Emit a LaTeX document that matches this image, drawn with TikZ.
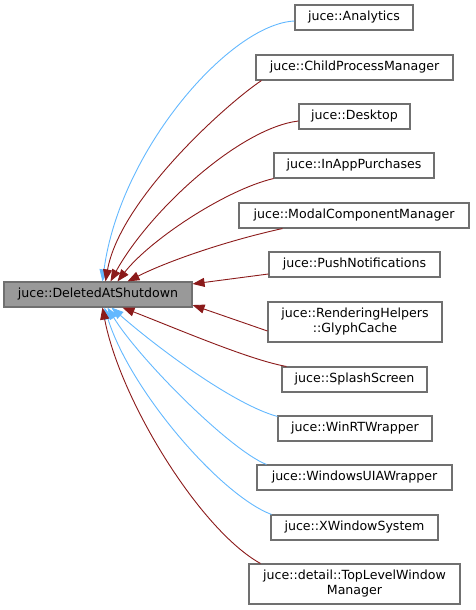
\documentclass[tikz,border=0pt]{standalone}
\usepackage{fontspec}
\setmainfont{DejaVu Sans}
\usetikzlibrary{arrows.meta}
\definecolor{eblue}{HTML}{63B8FF}
\definecolor{ered}{HTML}{8B1A1A}
\definecolor{bord}{HTML}{707070}
\definecolor{basefill}{HTML}{999999}
\begin{document}
\begin{tikzpicture}[x=1pt,y=-1pt,
  box/.style={draw=bord,line width=1.1pt,fill=white,inner sep=0pt,minimum height=25pt,align=center,font=\fontsize{12.6}{15}\selectfont},
  basebox/.style={box,fill=basefill},
  pub/.style={draw=eblue,line width=0.9pt,-{Triangle[length=12pt,width=9pt]}},
  priv/.style={draw=ered,line width=0.9pt,-{Triangle[length=12pt,width=9pt]}}]
\useasboundingbox (0,0) rectangle (475,610);
\node[basebox,minimum width=188pt] (base) at (98,294.5) {juce::DeletedAtShutdown};
\node[box,minimum width=118pt] (an) at (354,17.5) {juce::Analytics};
\node[box,minimum width=197pt] (cp) at (354.5,67.5) {juce::ChildProcessManager};
\node[box,minimum width=111pt] (dt) at (354.5,116.5) {juce::Desktop};
\node[box,minimum width=160pt] (ia) at (354,165.5) {juce::InAppPurchases};
\node[box,minimum width=230pt] (mc) at (354,215.5) {juce::ModalComponentManager};
\node[box,minimum width=171pt] (pn) at (354.5,264.5) {juce::PushNotifications};
\node[box,minimum width=174pt,minimum height=40pt] (gc) at (355,322) {juce::RenderingHelpers\\::GlyphCache};
\node[box,minimum width=145pt] (ss) at (354.5,379.5) {juce::SplashScreen};
\node[box,minimum width=154pt] (wr) at (355,428.5) {juce::WinRTWrapper};
\node[box,minimum width=195pt] (wu) at (354.5,477.5) {juce::WindowsUIAWrapper};
\node[box,minimum width=167pt] (xw) at (354.5,527.5) {juce::XWindowSystem};
\node[box,minimum width=211pt,minimum height=40pt] (tl) at (354.5,584) {juce::detail::TopLevelWindow\\Manager};
% edges
\draw[pub] ([yshift=-3.5pt]an.west) .. controls (230,24) and (120,150) .. ([xshift=99pt]base.north west);
\draw[priv] ([xshift=6pt]cp.south west) .. controls (225,105) and (120,200) .. ([xshift=102pt]base.north west);
\draw[priv] ([yshift=-4.5pt]dt.west) .. controls (240,128) and (150,210) .. ([xshift=107pt]base.north west);
\draw[priv] (ia.south west) .. controls (225,190) and (150,240) .. ([xshift=114pt]base.north west);
\draw[priv] ([xshift=44pt]mc.south west) .. controls (230,240) and (170,260) .. ([xshift=124pt]base.north west);
\draw[priv] ([yshift=-9.5pt]pn.west) -- ([yshift=-2.5pt]base.north east);
\draw[priv] ([yshift=-9pt]gc.west) -- ([yshift=2.5pt]base.south east);
\draw[priv] ([xshift=5pt]ss.north west) .. controls (250,360) and (180,330) .. ([xshift=119pt]base.south west);
\draw[pub] ([yshift=-1pt]wr.north west) .. controls (235,405) and (160,350) .. ([xshift=108pt]base.south west);
\draw[pub] ([xshift=10pt]wu.north west) .. controls (230,450) and (140,360) .. ([xshift=104pt]base.south west);
\draw[pub] ([xshift=1pt]xw.north west) .. controls (220,495) and (130,390) .. ([xshift=101pt]base.south west);
\draw[priv] ([xshift=12pt]tl.north west) .. controls (200,530) and (120,400) .. ([xshift=99pt]base.south west);
\end{tikzpicture}
\end{document}
